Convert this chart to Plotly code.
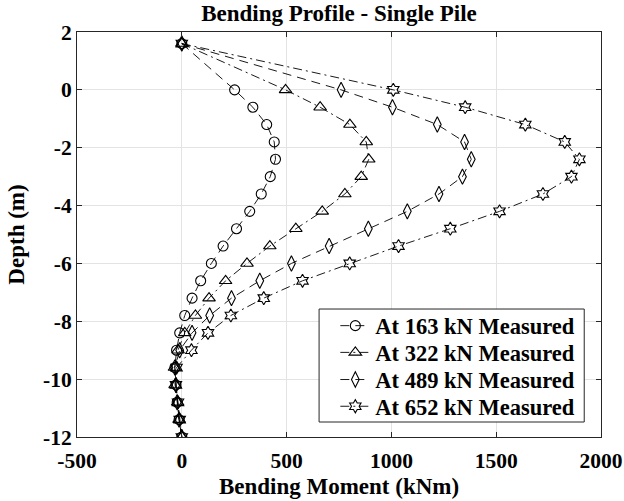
import plotly.graph_objects as go

# Depth of each measurement station along the pile (m)
depth = [1.6, 0.0, -0.6, -1.2, -1.8, -2.4, -3.0, -3.6, -4.2, -4.8, -5.4,
         -6.0, -6.6, -7.2, -7.8, -8.4, -9.0, -9.6, -10.2, -10.8, -11.4, -12.0]

# Measured bending moments (kNm) for each lateral load level
m_163 = [0, 252, 339, 405, 441, 447, 422, 379, 324, 261, 197, 141, 90, 49,
         14, -10, -25, -33, -28, -22, -13, 0]
m_322 = [0, 495, 660, 802, 880, 892, 856, 778, 670, 544, 420, 311, 209, 130,
         65, 14, -18, -35, -32, -20, -13, 0]
m_489 = [0, 760, 1005, 1219, 1349, 1381, 1339, 1227, 1076, 890, 703, 523,
         372, 237, 133, 49, -10, -33, -28, -22, -13, 0]
m_652 = [0, 1009, 1352, 1639, 1827, 1897, 1859, 1723, 1516, 1281, 1034, 801,
         576, 391, 234, 125, 46, -25, -28, -18, -10, 0]

series_names = ["At 163 kN Measured", "At 322 kN Measured",
                "At 489 kN Measured", "At 652 kN Measured"]
series_values = [m_163, m_322, m_489, m_652]
series_symbols = ["circle-open", "triangle-up-open", "diamond-tall-open",
                  "hexagram-open"]
series_sizes = [10, 11, 11, 10]
series_dash = ["9px,6px", "9px,4px,2px,4px", "9px,6px", "9px,4px,2px,4px"]

x_ticks = [-500, 0, 500, 1000, 1500, 2000]
y_ticks = [-12, -10, -8, -6, -4, -2, 0, 2]

FONT = "Liberation Serif"
INK = "#000000"
FRAME = "#262626"

# legend box (paper coords) and one row per series inside it
LEG_X0, LEG_X1, LEG_Y0, LEG_Y1 = 0.462, 0.968, 0.037, 0.316
row_y = [0.274, 0.208, 0.141, 0.075]
legend_ids = ["legend", "legend2", "legend3", "legend4"]

fig = go.Figure()
for name, vals, sym, sz, dash, lid in zip(series_names, series_values,
                                          series_symbols, series_sizes,
                                          series_dash, legend_ids):
    fig.add_trace(go.Scatter(
        x=vals, y=depth, name=name, mode="lines+markers", legend=lid,
        line=dict(color=INK, width=0.9, dash=dash),
        marker=dict(symbol=sym, size=sz, color=INK,
                    line=dict(color=INK, width=1.1)),
    ))

axis_common = dict(
    showgrid=True, gridcolor="#e3e3e3", gridwidth=1,
    showline=True, linecolor=FRAME, linewidth=1, mirror="ticks",
    ticks="inside", ticklen=5, tickcolor=FRAME, tickwidth=1,
    zeroline=False, automargin=False,
    tickfont=dict(family=FONT, size=21.5, color=INK, weight="bold"),
)

fig.update_xaxes(
    range=[-500, 2000], tickvals=x_ticks, ticktext=[str(v) for v in x_ticks],
    ticklabelstandoff=4,
    title=dict(text="Bending Moment (kNm)", standoff=6,
               font=dict(family=FONT, size=23, color=INK, weight="bold")),
    **axis_common,
)
fig.update_yaxes(
    range=[-12, 2], tickvals=y_ticks, ticktext=[str(v) for v in y_ticks],
    title=dict(text="Depth (m)", standoff=11,
               font=dict(family=FONT, size=23, color=INK, weight="bold")),
    **axis_common,
)

legend_font = dict(family=FONT, size=22.5, color=INK, weight="bold")
legends = {}
for lid, ry in zip(legend_ids, row_y):
    legends[lid] = dict(
        x=0.493, y=ry, xanchor="left", yanchor="middle",
        bgcolor="rgba(0,0,0,0)", borderwidth=0, font=legend_font,
    )

fig.update_layout(
    width=624, height=501,
    margin=dict(l=77, r=23, t=32, b=64, autoexpand=False),
    paper_bgcolor="white", plot_bgcolor="white",
    title=dict(text="Bending Profile - Single Pile", x=0.5, xref="paper",
               y=0.974, yref="container", yanchor="middle",
               font=dict(family=FONT, size=23, color=INK, weight="bold")),
    shapes=[dict(type="rect", xref="paper", yref="paper",
                 x0=LEG_X0, x1=LEG_X1, y0=LEG_Y0, y1=LEG_Y1,
                 fillcolor="white", line=dict(color=FRAME, width=1),
                 layer="above")],
    showlegend=True,
    **legends,
)

fig.write_html("out.html")
